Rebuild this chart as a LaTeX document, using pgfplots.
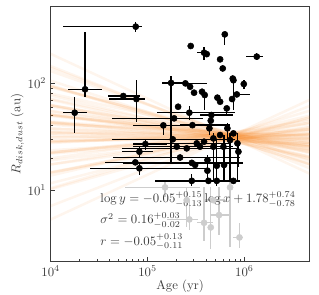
\documentclass[border=0pt]{standalone}
\usepackage{pgfplots}
\pgfplotsset{compat=1.18}
\usepackage{pgfplotstable}
\definecolor{fanorange}{RGB}{245,125,20}
\definecolor{framegray}{RGB}{60,60,60}
\definecolor{limgray}{RGB}{205,205,205}

\pgfplotstableread{
x y xlo xhi ylo yhi
75500 340 13500 87100 305 378
22650 88 15200 33600 75 301
17700 53.1 13300 23900 34.5 73.9
56200 76.1 38800 83700 76.1 76.1
76700 71.3 40000 94200 43.7 107
279000 224 279000 279000 224 224
627000 288 627000 627000 229 288
383000 194 322000 425000 165 221
408000 188 408000 408000 188 188
561000 168 561000 561000 168 168
597000 138 597000 597000 138 138
1340000 178 1040000 1572000 165 191
758000 111 758000 758000 111 111
770000 107 770000 770000 56.2 107
985000 98.6 985000 985000 88 107
175000 101 142000 246000 17.8 117
246000 100 200000 408000 100 100
274600 93 274600 274600 93 93
302000 81.8 302000 302000 81.8 81.8
365000 83.5 365000 365000 83.5 83.5
389000 77.8 389000 389000 56.2 77.8
526000 73.5 526000 526000 73.5 73.5
561000 67.3 561000 561000 67.3 67.3
746000 71.3 746000 746000 71.3 71.3
834000 78.8 834000 1144000 78.8 78.8
206700 60.4 206700 206700 60.4 60.4
188000 47 42700 377000 47 47
270000 53.1 124400 801000 45.3 61.3
456000 50.5 348000 770000 50.5 50.5
657000 58.3 657000 657000 50.5 61.3
145600 40.4 71400 290500 32.8 42.8
290500 40.6 216600 711000 40.6 40.6
449000 44.7 449000 449000 44.7 44.7
435000 37.9 435000 435000 32.8 42.8
667000 37.9 667000 667000 29.4 42.8
182000 29.9 42700 801000 29.9 29.9
95000 27 71400 157800 23.7 29.4
82400 22.9 54100 114800 20.5 25.5
74800 18.2 36400 124400 18.2 18.2
82400 16 25500 408000 13.8 17.8
216600 20.2 44300 902000 20.2 20.2
253600 24.6 54100 834000 24.6 24.6
322000 27.4 157800 711000 27.4 27.4
383000 28.4 383000 383000 28.4 28.4
478000 30.5 478000 478000 30.5 30.5
561000 32.8 561000 561000 32.8 32.8
711000 29.4 711000 711000 12 34
770000 34 770000 770000 34 34
847000 27.4 847000 847000 12 34
867000 22.9 867000 867000 16.6 27.4
286000 18 56200 977000 18 18
415000 19.1 415000 415000 12 21.5
415000 15.2 415000 415000 15.2 15.2
518000 16.9 518000 518000 12 29.4
616000 17.2 616000 616000 12 32.8
286000 12.2 119500 770000 10.9 14.3
425000 12.2 425000 425000 12.2 12.2
518000 12.2 518000 518000 10.9 19.1
770000 12.2 253600 902000 12.2 12.2
348000 25.5 348000 348000 25.5 25.5
478000 25.5 478000 478000 12 34
607000 25.5 607000 607000 25.5 25.5
200000 25.5 71400 770000 25.5 25.5
309700 17.2 309700 309700 17.2 17.2
}\detected

\pgfplotstableread{
x y xlo xhi ylo yhi
151600 10.6 58600 348000 8.66 12
270000 5.31 157800 335000 4.22 8.05
383000 4.94 322000 478000 3.3 10.6
449000 4.47 449000 449000 2.8 10.6
547000 5.83 449000 711000 3.8 10.6
888000 3.6 770000 977000 2.84 4.9
253600 8.05 253600 253600 4.5 10.6
711000 10.6 711000 711000 2.95 12
478000 8.05 383000 630000 8.05 8.05
}\limits

\pgfplotstableread{
yl yr
189 13.9
145.3 15.7
139.2 17.1
130.3 18.3
106.1 17.0
95.7 19.0
94.8 17.3
93.3 20.2
92.1 21.8
77.3 19.95
80.3 23.6
70.4 19.5
71.4 22.5
61.1 20.4
62.4 22.4
62.6 23.9
62.2 25.2
54.7 23.8
51.3 23.3
55.2 26.2
51.2 25.4
49.7 25.7
50.5 27.3
50.1 28.3
43.4 25.6
41.2 25.3
42.8 27.5
43.0 28.9
43.7 30.7
37.8 27.7
35.7 26.6
41.7 31.9
37.7 30.2
32.6 27.3
33.9 29.6
34.5 31.4
34.7 33.0
31.0 30.8
29.1 30.2
31.3 34.0
29.0 32.9
28.2 33.3
28.3 35.6
27.6 37.2
23.6 33.8
22.0 33.8
22.6 36.9
22.3 39.0
22.4 41.7
19.0 37.9
17.4 37.0
19.8 44.9
17.4 43.1
14.6 39.4
14.7 43.4
14.5 46.7
13.7 50.4
11.6 48.5
10.2 48.8
10.4 56.3
7.1 62.7
5.3 71.9
}\fan

\begin{document}
\begin{tikzpicture}
\useasboundingbox (-39.7pt,-25.9pt) rectangle (210.2pt,204.55pt);
\begin{axis}[
  scale only axis, width=202.8pt, height=199.3pt,
  xmode=log, ymode=log,
  xmin=1e4, xmax=4.7e6, ymin=2.16, ymax=523,
  axis line style={framegray, line width=0.8pt},
  tick align=inside, xtick pos=lower, ytick pos=left,
  major tick length=3.5pt, minor tick length=2pt,
  tick style={framegray, line width=0.6pt},
  xtick={1e4,1e5,1e6}, ytick={10,100},
  ticklabel style={text=framegray},
  xlabel={Age (yr)}, ylabel={$R_{disk,dust}$ (au)},
  label style={text=framegray},
  xlabel style={yshift=4pt},
  ylabel style={yshift=-4pt},
  fanline/.style={color=fanorange, opacity=0.075, line width=2pt, forget plot},
]
\pgfplotstablegetrowsof{\fan}
\pgfmathtruncatemacro{\nfan}{\pgfplotsretval-1}
\pgfplotsforeachungrouped \i in {0,...,\nfan}{%
  \pgfplotstablegetelem{\i}{yl}\of{\fan}\let\yl\pgfplotsretval
  \pgfplotstablegetelem{\i}{yr}\of{\fan}\let\yr\pgfplotsretval
  \edef\tmp{\noexpand\addplot[fanline] coordinates {(1e4,\yl) (5e6,\yr)};}%
  \tmp
}

\addplot[only marks, mark=*, mark size=2.4pt, color=limgray,
  error bars/.cd, x dir=both, x explicit, y dir=both, y explicit,
  error bar style={line width=1.1pt, limgray}, error mark=none]
  table[x=x, y=y,
    x error plus expr=\thisrow{xhi}-\thisrow{x},
    x error minus expr=\thisrow{x}-\thisrow{xlo},
    y error plus expr=\thisrow{yhi}-\thisrow{y},
    y error minus expr=\thisrow{y}-\thisrow{ylo}] {\limits};

\addplot[only marks, mark=*, mark size=2.4pt, color=black,
  error bars/.cd, x dir=both, x explicit, y dir=both, y explicit,
  error bar style={line width=1.1pt, black}, error mark=none]
  table[x=x, y=y,
    x error plus expr=\thisrow{xhi}-\thisrow{x},
    x error minus expr=\thisrow{x}-\thisrow{xlo},
    y error plus expr=\thisrow{yhi}-\thisrow{y},
    y error minus expr=\thisrow{y}-\thisrow{ylo}] {\detected};

\node[anchor=base west, text=framegray] at (rel axis cs:0.175,0.230)
  {$\log y = -0.05^{+0.15}_{-0.13}\log x + 1.78^{+0.74}_{-0.78}$};
\node[anchor=base west, text=framegray] at (rel axis cs:0.175,0.146)
  {$\sigma^2 = 0.16^{+0.03}_{-0.02}$};
\node[anchor=base west, text=framegray] at (rel axis cs:0.175,0.063)
  {$r = -0.05^{+0.13}_{-0.11}$};
\end{axis}
\end{tikzpicture}
\end{document}
